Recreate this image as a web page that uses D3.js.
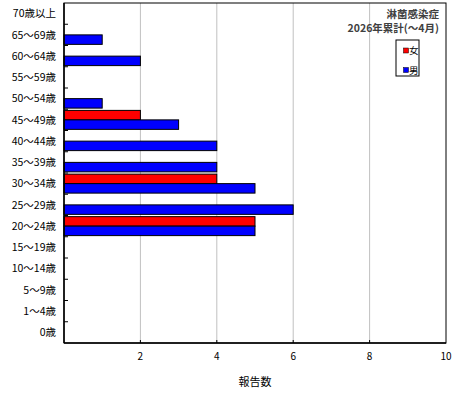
<!DOCTYPE html>
<html>
<head>
<meta charset="utf-8">
<script src="https://cdn.jsdelivr.net/npm/d3@7"></script>
<style>
  body { margin: 0; background: #fff; }
  text { font-family: "Noto Sans CJK JP", sans-serif; }
</style>
</head>
<body>
<svg id="chart" width="460" height="400"></svg>
<script>
// age groups, top to bottom
const ageGroups = ["70歳以上", "65～69歳", "60～64歳", "55～59歳", "50～54歳", "45～49歳",
  "40～44歳", "35～39歳", "30～34歳", "25～29歳", "20～24歳", "15～19歳",
  "10～14歳", "5～9歳", "1～4歳", "0歳"];
const female = [0, 0, 0, 0, 0, 2, 0, 0, 4, 0, 5, 0, 0, 0, 0, 0];
const male   = [0, 1, 2, 0, 1, 3, 4, 4, 5, 6, 5, 0, 0, 0, 0, 0];
const series = [
  { name: "女", color: "#ff0000", values: female },
  { name: "男", color: "#0000ff", values: male }
];
const xTicks = [2, 4, 6, 8, 10];

let svg = d3.select("#chart");
let plotL = 64, plotR = 446, plotT = 3, plotB = 343;

let x = d3.scaleLinear().domain([0, 10]).range([plotL, plotR]);
let y = d3.scaleBand().domain(ageGroups).range([plotT, plotB]);
let sub = d3.scaleBand().domain(series.map(s => s.name))
    .range([0, y.bandwidth()]).paddingOuter(0.12);

// gridlines
svg.append("g").selectAll("line")
    .data(xTicks.filter(t => t < 10))
    .join("line")
    .attr("x1", d => x(d)).attr("x2", d => x(d))
    .attr("y1", plotT).attr("y2", plotB)
    .attr("stroke", "#c0c0c0").attr("stroke-width", 1);

// bars
series.forEach(s => {
    svg.append("g").selectAll("rect")
        .data(ageGroups.map((a, i) => ({ age: a, v: s.values[i] })).filter(d => d.v > 0))
        .join("rect")
        .attr("x", x(0))
        .attr("y", d => y(d.age) + sub(s.name))
        .attr("width", d => x(d.v) - x(0))
        .attr("height", sub.bandwidth())
        .attr("fill", s.color)
        .attr("stroke", "#000")
        .attr("stroke-width", 1);
});

// frame
svg.append("rect")
    .attr("x", plotL).attr("y", plotT)
    .attr("width", plotR - plotL).attr("height", plotB - plotT)
    .attr("fill", "none").attr("stroke", "#000").attr("stroke-width", 1);
svg.append("line")
    .attr("x1", plotL).attr("x2", plotL).attr("y1", plotT).attr("y2", plotB)
    .attr("stroke", "#000").attr("stroke-width", 1.5);
svg.append("line")
    .attr("x1", plotL).attr("x2", plotR).attr("y1", plotB).attr("y2", plotB)
    .attr("stroke", "#000").attr("stroke-width", 1.5);

// y ticks between bands, pointing inward
svg.append("g").selectAll("line")
    .data(ageGroups.slice(1))
    .join("line")
    .attr("x1", plotL).attr("x2", plotL + 4)
    .attr("y1", d => y(d)).attr("y2", d => y(d))
    .attr("stroke", "#000");

svg.append("g").selectAll("text")
    .data(ageGroups)
    .join("text")
    .attr("x", 56)
    .attr("y", d => y(d) + y.bandwidth() / 2)
    .attr("dy", "0.35em")
    .attr("text-anchor", "end")
    .attr("font-size", 10.5)
    .text(d => d);

// x ticks
svg.append("g").selectAll("line")
    .data(xTicks.filter(t => t < 10))
    .join("line")
    .attr("x1", d => x(d)).attr("x2", d => x(d))
    .attr("y1", plotB).attr("y2", plotB - 3)
    .attr("stroke", "#000");

svg.append("g").selectAll("text")
    .data(xTicks)
    .join("text")
    .attr("x", d => x(d))
    .attr("y", 360)
    .attr("text-anchor", "middle")
    .attr("font-size", 10)
    .text(d => d);

svg.append("text")
    .attr("x", 255).attr("y", 386)
    .attr("text-anchor", "middle")
    .attr("font-size", 11)
    .text("報告数");

// title
svg.append("text")
    .attr("x", 439).attr("y", 18)
    .attr("text-anchor", "end")
    .attr("font-size", 10.5).attr("font-weight", "bold")
    .attr("fill", "#404040")
    .text("淋菌感染症");
svg.append("text")
    .attr("x", 439).attr("y", 32)
    .attr("text-anchor", "end")
    .attr("font-size", 10.5).attr("font-weight", "bold")
    .attr("fill", "#404040")
    .text("2026年累計(～4月)");

// legend
let legend = svg.append("g");
legend.append("rect")
    .attr("x", 396).attr("y", 40).attr("width", 23).attr("height", 36)
    .attr("fill", "#fff").attr("stroke", "#000");
legend.selectAll("g")
    .data(series)
    .join("g")
    .attr("transform", (d, i) => `translate(403.5,${48 + i * 19.5})`)
    .each(function(d) {
        let g = d3.select(this);
        g.append("rect").attr("width", 5).attr("height", 5)
            .attr("fill", d.color).attr("stroke", "#000").attr("stroke-width", 0.5);
        g.append("text").attr("x", 5.5).attr("y", 6)
            .attr("font-size", 9.5).text(d.name);
    });
</script>
</body>
</html>
